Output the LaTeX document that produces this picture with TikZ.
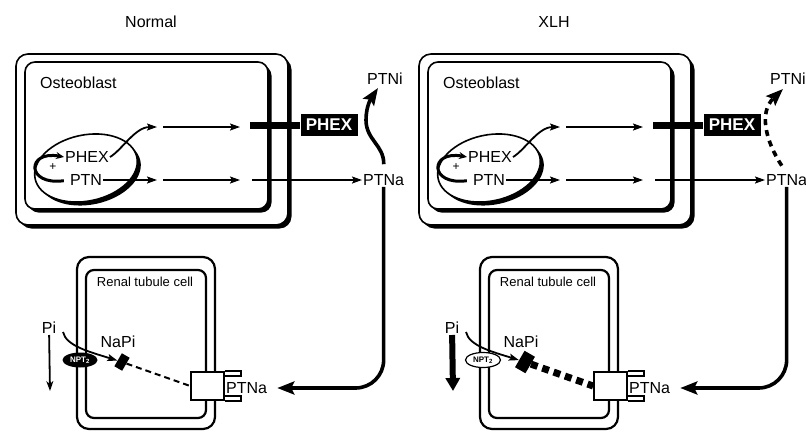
\documentclass[tikz,border=0pt]{standalone}
\usepackage{fontspec}
\setmainfont{Liberation Sans}
\usetikzlibrary{arrows.meta,positioning,calc,shadows,shapes.geometric}
\tikzset{
  lbl/.style={font=\fontsize{16}{19}\selectfont,inner sep=1pt},
  celltext/.style={font=\fontsize{13}{15}\selectfont,inner sep=1pt},
  wall/.style={draw,line width=1.6pt,fill=white,rounded corners=#1,
    drop shadow={opacity=1,fill=black,shadow xshift=3.5pt,shadow yshift=-3.5pt}},
  renal/.style={draw,line width=2.2pt,rounded corners=#1},
  flow/.style={-{Stealth[length=10pt,width=7pt,inset=2pt]},line width=1.8pt},
  bigflow/.style={-{Stealth[length=17pt,width=13pt,inset=3pt]},line width=3.6pt},
  tag/.style={fill=black,text=white,font=\fontsize{17}{20}\selectfont\bfseries,
    minimum width=57pt,minimum height=22pt,inner sep=0pt},
  rec/.style={draw,fill=white,line width=1.6pt,minimum width=33pt,
    minimum height=28pt,inner sep=0pt},
  npt/.style={ellipse,minimum width=35pt,minimum height=15pt,inner sep=0pt,
    font=\fontsize{8}{9}\selectfont\bfseries},
  n-npt/.style={npt,fill=black,text=white},
  x-npt/.style={npt,draw,line width=1.2pt,fill=white},
  n-blk/.style={fill=black,minimum width=9pt,minimum height=15pt,inner sep=0pt,rotate=-30},
  x-blk/.style={fill=black,minimum width=12pt,minimum height=19pt,inner sep=0pt,rotate=-30},
  n-link/.style={line width=2pt,dash pattern=on 6pt off 4pt},
  x-link/.style={line width=7pt,dash pattern=on 7pt off 5pt},
  n-drop/.style={-{Stealth[length=10pt,width=7pt]},line width=1.8pt},
  x-drop/.style={-{Triangle[length=13pt,width=14pt]},line width=6pt}
}

\begin{document}
\begin{tikzpicture}[x=1pt,y=1pt]
\useasboundingbox (0,0) rectangle (806,-432);
\foreach \p/\dx/\ttl in {n/0/Normal,x/403/XLH}{
\begin{scope}[xshift=\dx pt]
\node[lbl] (\p-title) at (151,-22) {\ttl};
% osteoblast
\draw[wall=12pt] (16,-54) rectangle (288,-225);
\draw[wall=10pt] (25,-62) rectangle (268,-209);
\node[lbl,anchor=west] (\p-osteo) at (39,-83) {Osteoblast};
\draw[wall=0pt,rotate around={12:(86,-168)}] (86,-168) ellipse [x radius=52,y radius=33];
\node[lbl] (\p-phex) at (87,-157) {PHEX};
\node[lbl] (\p-ptn) at (86,-180) {PTN};
\node[font=\fontsize{12}{14}\selectfont,inner sep=0pt] (\p-plus) at (53,-167) {+};
\node[tag] (\p-tag) at (329,-125) {PHEX};
\node[lbl,anchor=west] (\p-ptna) at (362,-180) {PTNa};
\node[lbl] (\p-ptni) at (385,-79) {PTNi};
\coordinate (\p-c1) at (157,-127);
\coordinate (\p-c2) at (163,-127);
\coordinate (\p-c3) at (240,-127);
\coordinate (\p-c4) at (250,-125);
\coordinate (\p-d1) at (157,-180);
\coordinate (\p-d2) at (163,-180);
\coordinate (\p-d3) at (240,-180);
\coordinate (\p-d4) at (252,-180);
\draw[line width=3pt,-{Stealth[length=8pt,width=7pt]},shorten <=5pt]
  (\p-ptn.west) .. controls (26,-186) and (26,-150) .. (\p-phex.west);
\draw[flow] (\p-phex.east) .. controls (122,-150) and (135,-127) .. (\p-c1);
\draw[flow] (\p-c2) -- (\p-c3);
\draw[line width=7pt] (\p-c4) -- (\p-tag.west);
\draw[flow] (\p-ptn.east) -- (\p-d1);
\draw[flow] (\p-d2) -- (\p-d3);
\draw[flow] (\p-d4) -- (\p-ptna.west);
% renal tubule cell
\draw[renal=12pt] (77,-257) rectangle (215,-429);
\draw[renal=8pt] (86,-270) rectangle (206,-418);
\node[celltext] (\p-renal) at (145,-282) {Renal tubule cell};
\node[rec] (\p-rec) at (207.5,-386) {};
\draw[line width=1.6pt] (\p-rec.north east) -- ++(16,0) -- ++(0,-5) -- ++(-16,0);
\draw[line width=1.6pt] (\p-rec.south east) -- ++(16,0) -- ++(0,5) -- ++(-16,0);
\node[lbl,anchor=west] (\p-rptna) at (225,-388) {PTNa};
\node[\p-npt] (\p-npt) at (80,-360) {NPT\textsubscript{2}};
\node[\p-blk] (\p-blk) at (122,-362) {};
\node[lbl] (\p-napi) at (118,-342) {NaPi};
\node[lbl] (\p-pi) at (49,-328) {Pi};
\coordinate (\p-pin) at (63,-332);
\coordinate (\p-pid) at (50,-391);
\draw[flow] (\p-pin) .. controls (66,-346) and (90,-352) .. (\p-blk);
\draw[\p-drop] (\p-pi) -- (\p-pid);
\draw[\p-link] (\p-blk) -- (\p-rec.west);
\draw[bigflow,rounded corners=28pt,shorten >=9pt] (\p-ptna.south) |- (\p-rptna.east);
\end{scope}
}
% PTNa -> PTNi
\draw[bigflow,shorten <=9pt] (n-ptna.north) .. controls (384,-145) and (366,-140) .. (366,-120)
  .. controls (366,-105) and (372,-97) .. ($(n-ptni.south)+(-7,-2)$);
\draw[bigflow,shorten <=9pt,dash pattern=on 6pt off 5pt] (x-ptna.north)
  .. controls (765,-140) and (759,-112) .. ($(x-ptni.south)+(-5,-3)$);
\end{tikzpicture}
\end{document}
